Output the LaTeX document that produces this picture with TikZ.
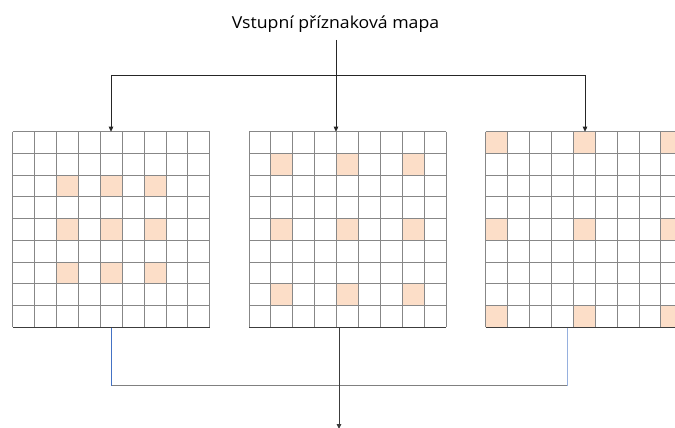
\documentclass[tikz,border=0pt]{standalone}
\usepackage{fontspec}
\setmainfont{Open Sans}
\newfontfamily\titlefont[FakeStretch=1.07]{Open Sans}
\usetikzlibrary{arrows.meta}
\definecolor{cellfill}{RGB}{252,222,200}
\definecolor{gridgray}{RGB}{135,135,135}
\definecolor{basegray}{RGB}{60,60,60}
\definecolor{linkblue}{RGB}{68,114,196}
\definecolor{linkpale}{RGB}{150,176,222}
\definecolor{linkgray}{RGB}{128,128,128}

% cell size of the 9x9 feature maps
\def\cw{21.9}
\def\ch{21.73}
\def\gy{131.7}

% \dilgrid{name}{left x}{indices of the sampled rows/columns}
\newcommand\dilgrid[3]{%
  \node[gridbox, anchor=north west] (#1) at (#2,\gy) {};
  \foreach \c in {#3}
    \foreach \r in {#3}
      \fill[cellfill] (#2+\c*\cw,\gy+\r*\ch) rectangle ++(\cw,\ch);
  \foreach \i in {0,...,9}
    \draw[gridline] (#2+\i*\cw,\gy) -- ++(0,9*\ch);
  \foreach \j in {0,...,8}
    \draw[gridline] (#2,\gy+\j*\ch) -- ++(9*\cw,0);
  \draw[gridbase] (#2,\gy+9*\ch) -- ++(9*\cw,0);
}

\begin{document}
\begin{tikzpicture}[x=1pt,y=-1pt,
    gridbox/.style={minimum width=197.1pt, minimum height=195.57pt, inner sep=0pt, draw=none},
    gridline/.style={gridgray, line width=0.9pt},
    gridbase/.style={basegray, line width=1.1pt},
    link/.style={black!85, line width=0.8pt},
    tip/.style={-{Triangle[width=4.5pt,length=5pt]}},
    title/.style={font=\titlefont\fontsize{16.5}{19}\selectfont, inner sep=0pt}]
  \useasboundingbox (0,0) rectangle (675,428);
  \clip (0,0) rectangle (675,428);

  % the three dilated sampling patterns
  \dilgrid{g1}{12.7}{2,4,6}
  \dilgrid{g2}{249}{1,4,7}
  \dilgrid{g3}{485.7}{0,4,8}

  % input label and distribution to the three maps
  \node[title, anchor=base] (title) at (335.5,28.5) {Vstupní příznaková mapa};
  \coordinate (splitL) at (111,75);
  \coordinate (splitR) at (585,75);
  \coordinate (in1) at (111,131.7);
  \coordinate (in2) at (336,131.7);
  \coordinate (in3) at (585,131.7);

  \draw[link] (splitL) -- (splitR);
  \draw[link, tip] (in2 |- 0,40) -- (in2);
  \draw[link, tip] (splitL) -- (in1);
  \draw[link, tip] (splitR) -- (in3);

  % merging of the outputs
  \coordinate (out1) at (111.7,327.5);
  \coordinate (out2) at (339,327.5);
  \coordinate (out3) at (567.3,327.5);
  \coordinate (mergeL) at (111.7,385.7);
  \coordinate (mergeR) at (567.3,385.7);
  \coordinate (result) at (339,429);

  \draw[linkblue, line width=0.8pt] (out1) -- (mergeL);
  \draw[linkpale, line width=0.8pt] (out3) -- (mergeR);
  \draw[linkgray, line width=1pt] (mergeL) -- (mergeR);
  \draw[basegray, line width=1pt, tip] (out2) -- (result);
\end{tikzpicture}
\end{document}
